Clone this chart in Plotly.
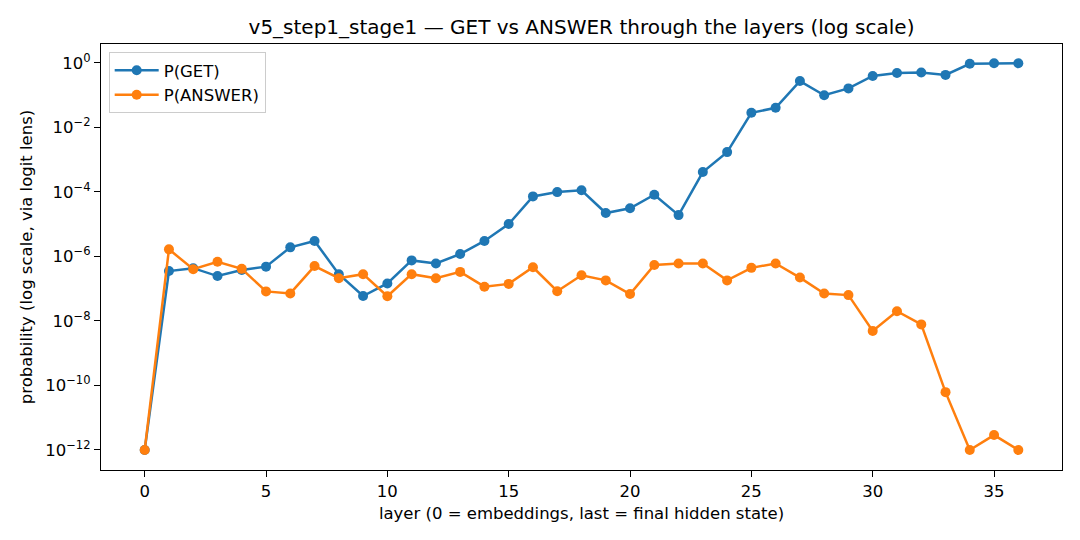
import plotly.graph_objects as go

layers = list(range(37))
p_get = [1e-12, 3.5e-7, 4.3e-7, 2.45e-7, 3.8e-7, 4.8e-7, 1.9e-6, 3.0e-6, 2.8e-7, 5.9e-8,
         1.45e-7, 7.5e-7, 6.0e-7, 1.18e-6, 3.0e-6, 1.0e-5, 7.2e-5, 9.8e-5, 1.12e-4, 2.2e-5,
         3.1e-5, 8.1e-5, 1.9e-5, 4.1e-4, 1.7e-3, 2.8e-2, 4.0e-2, 0.27, 0.098, 0.16,
         0.39, 0.48, 0.50, 0.42, 0.93, 0.96, 0.96]
p_answer = [1e-12, 1.65e-6, 4.0e-7, 6.8e-7, 4.1e-7, 8.2e-8, 7.1e-8, 5.0e-7, 2.1e-7, 2.8e-7,
            5.8e-8, 2.8e-7, 2.1e-7, 3.3e-7, 1.15e-7, 1.4e-7, 4.6e-7, 8.3e-8, 2.6e-7, 1.8e-7,
            6.8e-8, 5.4e-7, 6.0e-7, 6.0e-7, 1.8e-7, 4.4e-7, 6.0e-7, 2.2e-7, 7.1e-8, 6.3e-8,
            4.9e-9, 2.0e-8, 7.8e-9, 6.2e-11, 1e-12, 2.9e-12, 1e-12]
series_names = ["P(GET)", "P(ANSWER)"]
colors = ["#1f77b4", "#ff7f0e"]
x_ticks = [0, 5, 10, 15, 20, 25, 30, 35]
y_exps = [0, -2, -4, -6, -8, -10, -12]

title = "v5_step1_stage1 — GET vs ANSWER through the layers (log scale)"
x_title = "layer (0 = embeddings, last = final hidden state)"
y_title = "probability (log scale, via logit lens)"

font = "DejaVu Sans"
fs = 16.5

fig = go.Figure()
for i, (name, vals, col) in enumerate(zip(series_names, [p_get, p_answer], colors)):
    fig.add_trace(go.Scatter(
        x=layers, y=vals, name=name, mode="lines+markers",
        legendgroup=f"g{i}",
        line=dict(color=col, width=2.5),
        marker=dict(color=col, size=10),
    ))

def lab(e):
    s = str(e).replace("-", "\u2212")
    return f"10<sup>{s}</sup>"

fig.update_layout(
    width=1080, height=540,
    paper_bgcolor="white", plot_bgcolor="white",
    margin=dict(l=101, r=18, t=44, b=70),
    font=dict(family=font, size=fs, color="black"),
    title=dict(text=title, x=(101 + 1062) / 2 / 1080, xanchor="center", y=1 - 27 / 540, yanchor="middle",
               font=dict(family=font, size=20, color="black")),
    showlegend=True,
    legend=dict(x=0.008, y=0.981, xanchor="left", yanchor="top",
                bgcolor="rgba(255,255,255,0.8)", bordercolor="#cccccc", borderwidth=1,
                font=dict(family=font, size=fs, color="black"),
                itemwidth=44, tracegroupgap=0),
)
fig.update_xaxes(
    range=[-1.8, 37.8], tickvals=x_ticks, ticktext=[str(t) for t in x_ticks],
    showgrid=False, zeroline=False,
    showline=True, linecolor="black", linewidth=1.3, mirror=True,
    ticks="outside", ticklen=6, tickcolor="black", tickwidth=1.3,
    title=dict(text=x_title, font=dict(family=font, size=fs), standoff=7),
    tickfont=dict(family=font, size=fs),
)
fig.update_yaxes(
    type="log", range=[-12.62, 0.58],
    tickvals=[10.0 ** e for e in y_exps], ticktext=[lab(e) for e in y_exps],
    showgrid=False, zeroline=False,
    showline=True, linecolor="black", linewidth=1.3, mirror=True,
    ticks="outside", ticklen=6, tickcolor="black", tickwidth=1.3,
    title=dict(text=y_title, font=dict(family=font, size=fs), standoff=8),
    tickfont=dict(family=font, size=fs),
)

fig.write_html("out.html")
